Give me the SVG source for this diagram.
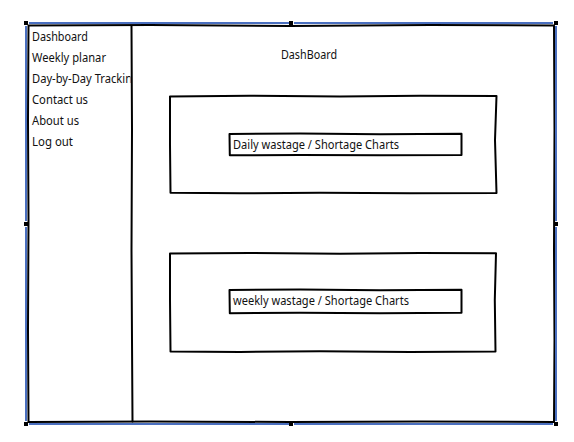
<svg xmlns="http://www.w3.org/2000/svg" width="574" height="442" viewBox="0 0 574 442">
  <defs>
    <style>
      .sketch { fill: none; stroke: #000; stroke-width: 2; stroke-linejoin: round; stroke-linecap: round; }
      .sel { fill: none; stroke: #4a6fbf; stroke-width: 2; }
      .handle { fill: #000; }
      .txt { font-family: "Noto Sans", "Open Sans", "DejaVu Sans", sans-serif; font-size: 12px; fill: #111; }
    </style>
    <clipPath id="sideClip">
      <rect x="28" y="26" width="102.5" height="396"/>
    </clipPath>
  </defs>
  <rect x="0" y="0" width="574" height="442" fill="#fff"/>

  <g id="frame">
    <path class="sketch" d="M28.5,25.5 L150,25 L290,26 L430,25 L554,25.5 L554.5,130 L554,250 L554.5,340 L554,422 L420,421.5 L290,422 L150,421.5 L28.5,422 L28,330 L28.5,220 L28,120 Z"/>
    <path class="sketch" d="M131.5,26 L132,130 L131.5,250 L132,340 L132.5,421.5"/>
  </g>

  <g id="sidebar" clip-path="url(#sideClip)">
    <text class="txt" x="32" y="41" textLength="56" lengthAdjust="spacingAndGlyphs">Dashboard</text>
    <text class="txt" x="32" y="62" textLength="74" lengthAdjust="spacingAndGlyphs">Weekly planar</text>
    <text class="txt" x="32" y="83" textLength="107" lengthAdjust="spacingAndGlyphs">Day-by-Day Tracking</text>
    <text class="txt" x="32" y="104" textLength="56" lengthAdjust="spacingAndGlyphs">Contact us</text>
    <text class="txt" x="32" y="125" textLength="47" lengthAdjust="spacingAndGlyphs">About us</text>
    <text class="txt" x="32" y="146" textLength="41" lengthAdjust="spacingAndGlyphs">Log out</text>
  </g>

  <g id="title">
    <text class="txt" x="281" y="58.5" textLength="56" lengthAdjust="spacingAndGlyphs">DashBoard</text>
  </g>

  <g id="daily-chart">
    <path class="sketch" d="M170,96.5 L250,95.8 L340,96.6 L420,95.8 L496.5,96 L495,140 L496.5,193 L410,193.3 L320,192.7 L240,193.3 L170.5,192.8 L170,145 Z"/>
    <path class="sketch" d="M229.5,134 L300,133.5 L380,134.2 L461.5,133.8 L461.5,155 L380,155.3 L300,154.9 L229.8,155.3 Z"/>
    <text class="txt" x="233" y="149" textLength="166" lengthAdjust="spacingAndGlyphs">Daily wastage / Shortage Charts</text>
  </g>

  <g id="weekly-chart">
    <path class="sketch" d="M170,253.5 L250,253 L340,253.8 L420,253 L496,253.3 L494.8,300 L495.5,351.5 L410,351.9 L320,351.3 L240,351.9 L170.5,351.5 L170,300 Z"/>
    <path class="sketch" d="M229.5,290 L300,289.5 L380,290.2 L461.5,289.8 L461.5,312.8 L380,313.2 L300,312.8 L229.8,313.2 Z"/>
    <text class="txt" x="233" y="305" textLength="176" lengthAdjust="spacingAndGlyphs">weekly wastage / Shortage Charts</text>
  </g>

  <g id="selection">
    <path class="sel" d="M29,23 L289,23 M294,23 L553,23 M29,424 L289,424 M294,424 L553,424 M26,26 L26,221 M26,227 L26,421 M556,26 L556,221 M556,227 L556,421"/>
    <rect class="handle" x="24" y="21" width="4" height="4"/>
    <rect class="handle" x="289" y="21" width="4" height="4"/>
    <rect class="handle" x="554" y="21" width="4" height="4"/>
    <rect class="handle" x="24" y="222" width="4" height="4"/>
    <rect class="handle" x="554" y="222" width="4" height="4"/>
    <rect class="handle" x="24" y="422" width="4" height="4"/>
    <rect class="handle" x="289" y="422" width="4" height="4"/>
    <rect class="handle" x="554" y="422" width="4" height="4"/>
  </g>
</svg>
